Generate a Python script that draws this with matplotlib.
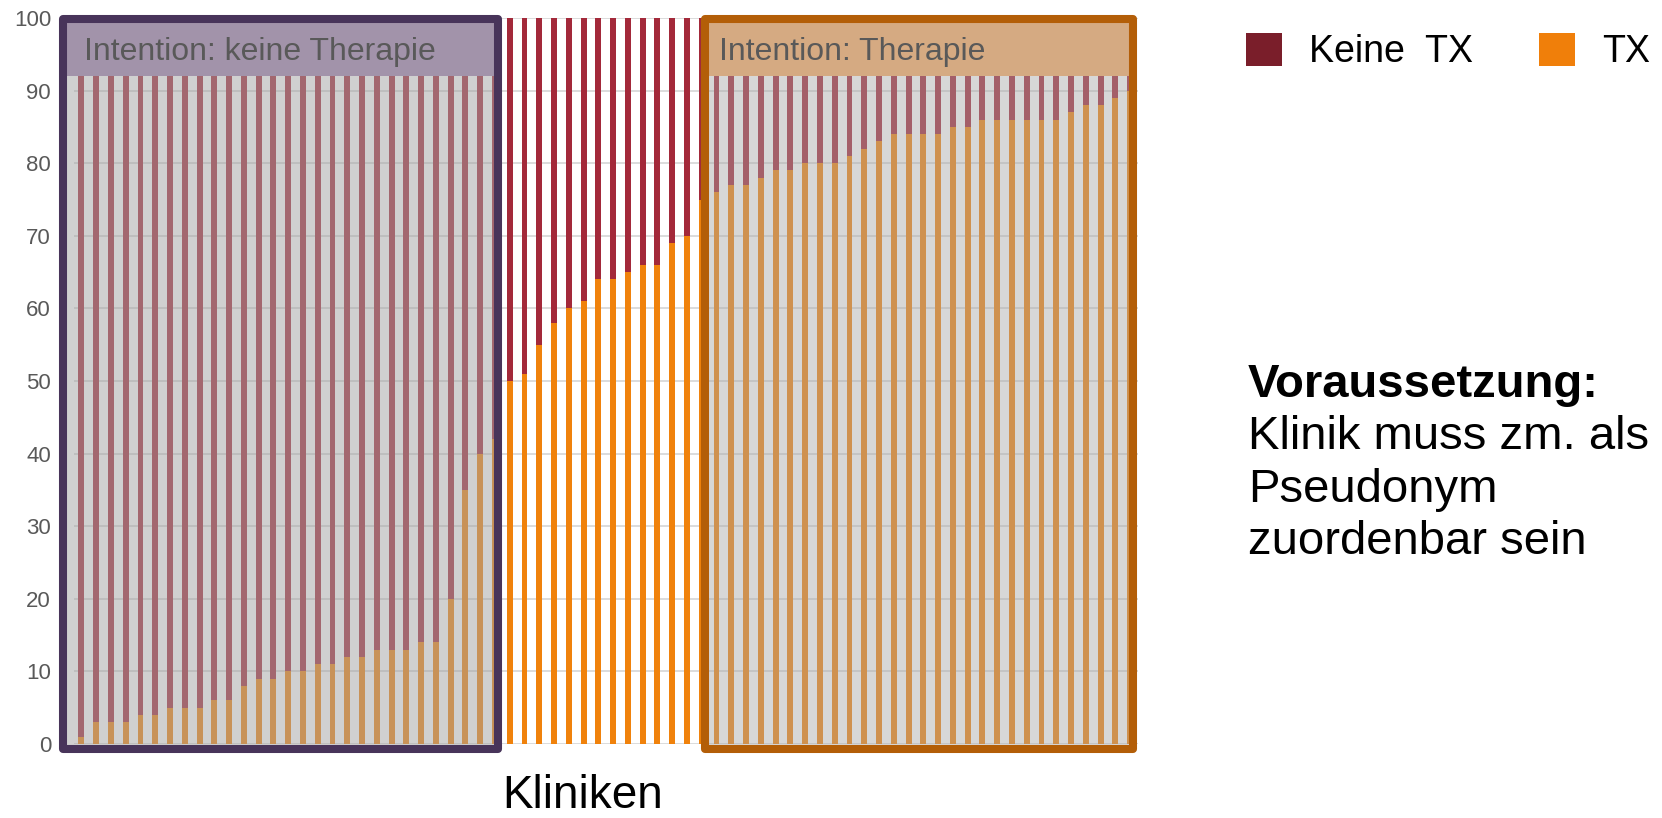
import matplotlib
matplotlib.use("Agg")
import matplotlib.pyplot as plt
from matplotlib.patches import Rectangle, Patch

plt.rcParams['font.family'] = ['Liberation Sans', 'DejaVu Sans']

# Share of patients with therapy (TX) per clinic, sorted ascending
tx_values = [1, 3, 3, 3, 4, 4, 5, 5, 5, 6, 6, 8, 9, 9, 10, 10, 11, 11, 12, 12,
             13, 13, 13, 14, 14, 20, 35, 40, 42,
             50, 51, 55, 58, 60, 61, 64, 64, 65, 66, 66, 69, 70, 75,
             76, 77, 77, 78, 79, 79, 80, 80, 80, 81, 82, 83, 84, 84, 84, 84,
             85, 85, 86, 86, 86, 86, 86, 86, 87, 88, 88, 89, 90]
no_tx_values = [100 - v for v in tx_values]
clinics = list(range(1, len(tx_values) + 1))
y_ticks = [0, 10, 20, 30, 40, 50, 60, 70, 80, 90, 100]

legend_labels = ["Keine  TX", "TX"]
group_labels = ["Intention: keine Therapie", "Intention: Therapie"]
group_ranges = [(1, 29), (44, 72)]
x_label = "Kliniken"
note_title = "Voraussetzung:"
note_lines = ["Klinik muss zm. als", "Pseudonym", "zuordenbar sein"]

RED = "#A3293A"
ORANGE = "#F0820C"
LEG_RED = "#7A1E2A"
LEG_ORANGE = "#F07F0A"

W, H = 1662, 818
fig = plt.figure(figsize=(W / 100, H / 100), dpi=100)
ax = fig.add_axes([74 / W, (H - 744) / H, (1137.5 - 74) / W, (744 - 18) / H])

ax.bar(clinics, tx_values, width=0.4, color=ORANGE, zorder=2, linewidth=0)
ax.bar(clinics, no_tx_values, bottom=tx_values, width=0.4, color=RED,
       zorder=2, linewidth=0)

ax.set_xlim(0.5, len(clinics) + 0.5)
ax.set_ylim(0, 100)
ax.set_yticks(y_ticks)
ax.set_xticks([])
ax.tick_params(axis='y', length=0, pad=16.5, labelsize=16, labelcolor="#595959")
ax.yaxis.grid(True, color="#D9D9D9", linewidth=1.3, zorder=0)
ax.set_axisbelow(True)
for s in ax.spines.values():
    s.set_visible(False)

# Group frames: translucent overlay, solid header band and outline
frame_styles = [
    dict(fill=(0.64, 0.64, 0.64, 0.51), header="#A293AA", edge="#48345A",
         pad_left=1.25, pad_right=0.23),
    dict(fill=(0.65, 0.65, 0.65, 0.44), header="#D5AA82", edge="#B35E08",
         pad_left=0.78, pad_right=0.20),
]
y_lo, y_hi, header_lo = -0.7, 99.9, 92
for (first, last), label, st in zip(group_ranges, group_labels, frame_styles):
    x0 = first - st["pad_left"]
    x1 = last + st["pad_right"]
    ax.add_patch(Rectangle((x0, y_lo), x1 - x0, y_hi - y_lo,
                           facecolor=st["fill"], edgecolor="none",
                           zorder=3, clip_on=False))
    ax.add_patch(Rectangle((x0, header_lo), x1 - x0, y_hi - header_lo,
                           facecolor=st["header"], edgecolor="none",
                           zorder=4, clip_on=False))
    ax.add_patch(Rectangle((x0, y_lo), x1 - x0, y_hi - y_lo,
                           fill=False, edgecolor=st["edge"], linewidth=5.8,
                           joinstyle='round', zorder=5, clip_on=False))
    ax.text(first + 0.2, 95.3, label, fontsize=23, color="#595959",
            ha='left', va='center', zorder=6)

# Legend
handles = [Patch(facecolor=LEG_RED, edgecolor='none'),
           Patch(facecolor=LEG_ORANGE, edgecolor='none')]
fig.legend(handles, legend_labels, loc='upper left',
           bbox_to_anchor=(1246 / W, (H - 33) / H), ncol=2, frameon=False,
           fontsize=27, handlelength=0.95, handleheight=0.98,
           handletextpad=0.72, columnspacing=1.78, borderpad=0,
           borderaxespad=0)

# x axis title
fig.text(583 / W, (H - 808) / H, x_label, fontsize=33, ha='center',
         va='baseline', color="black")

# Side note
fig.text(1248 / W, (H - 396.7) / H, note_title, fontsize=34,
         fontweight='bold', ha='left', va='baseline', color="black")
for i, line in enumerate(note_lines):
    fig.text(1248 / W, (H - 396.7 - 52.4 * (i + 1)) / H, line, fontsize=34,
             ha='left', va='baseline', color="black")

fig.savefig("out.png", dpi=100)
